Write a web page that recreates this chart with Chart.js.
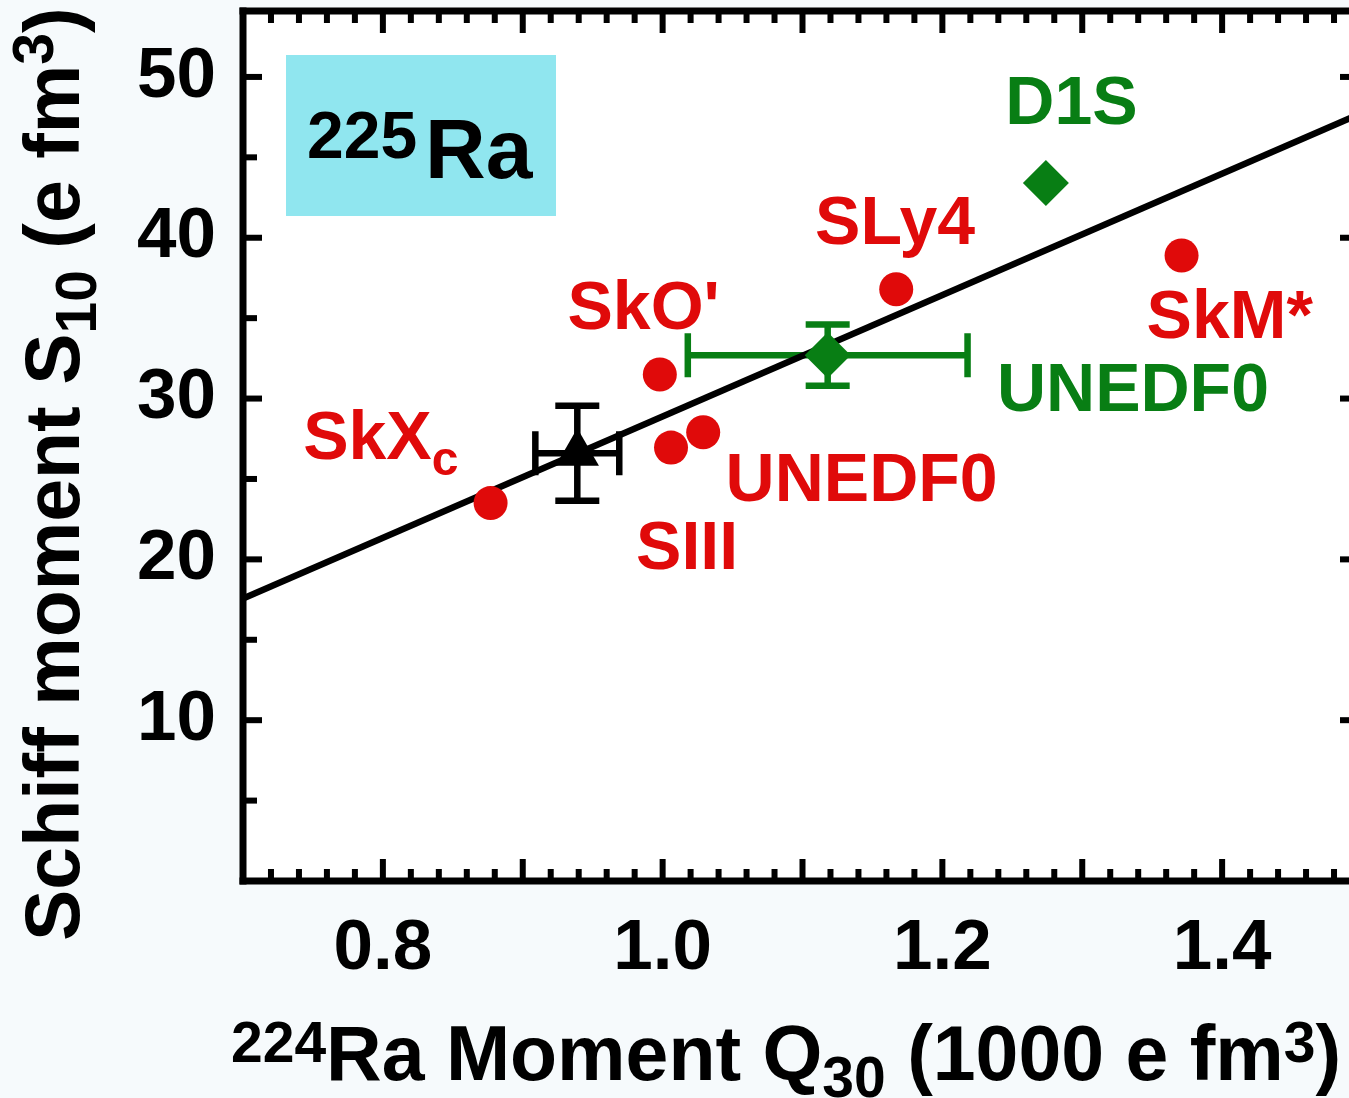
<!DOCTYPE html>
<html><head><meta charset="utf-8">
<script src="https://cdn.jsdelivr.net/npm/chart.js@4/dist/chart.umd.min.js"></script>
<style>
html,body{margin:0;padding:0;background:#f6fafc;overflow:hidden;width:1349px;height:1098px;}
#wrap{position:relative;width:1370px;height:1098px;}
</style></head><body><div id="wrap"><canvas id="c"></canvas></div>
<script>
// ---- data ----
const skyrmeNames = ['SkXc', "SkO'", 'SIII', 'UNEDF0', 'SLy4', 'SkM*'];
const skyrmeQ30 = [0.877, 0.998, 1.006, 1.029, 1.167, 1.371];
const skyrmeS10 = [23.5, 31.5, 26.95, 27.9, 36.8, 38.9];
const d1sQ30 = [1.274];
const d1sS10 = [43.4];
const unedfQ30 = [1.118];
const unedfS10 = [32.7];
const unedfQ30Err = [0.10];
const unedfS10Err = [1.9];
const expQ30 = [0.939];
const expS10 = [26.6];
const expQ30Err = [0.03];
const expS10Err = [2.95];
const fitQ30 = [0.7, 1.5];
const fitS10 = [17.56, 47.76];
const xTickLabels = [0.8, 1.0, 1.2, 1.4];
const yTickLabels = [10, 20, 30, 40, 50];

const RED = '#e00a0a', GREEN = '#087e14', BLACK = '#000000';
const FONT = "'Liberation Sans', Arial, sans-serif";

// label annotations (text segments, anchored at left baseline, in data coords)
const annotations = [
  {x: 0.743, y: 26.27, color: RED, segs: [{t: 'SkX'}, {t: 'c', sub: true}]},
  {x: 0.932, y: 34.35, color: RED, segs: [{t: "SkO'"}]},
  {x: 1.045, y: 23.66, color: RED, segs: [{t: 'UNEDF0'}]},
  {x: 0.981, y: 19.43, color: RED, segs: [{t: 'SIII'}]},
  {x: 1.109, y: 39.64, color: RED, segs: [{t: 'SLy4'}]},
  {x: 1.346, y: 33.79, color: RED, segs: [{t: 'SkM*'}]},
  {x: 1.245, y: 47.10, color: GREEN, segs: [{t: 'D1S'}]},
  {x: 1.239, y: 29.25, color: GREEN, segs: [{t: 'UNEDF0'}]}
];

function drawRich(ctx, segs, x, y, big, small, subDrop, supRise) {
  let cx = x;
  ctx.textBaseline = 'alphabetic';
  ctx.textAlign = 'left';
  for (const s of segs) {
    const size = (s.sub || s.sup) ? small : big;
    ctx.font = 'bold ' + size + 'px ' + FONT;
    const dy = s.sub ? subDrop : (s.sup ? -supRise : 0);
    ctx.fillText(s.t, cx, y + dy);
    cx += ctx.measureText(s.t).width;
  }
}

const decor = {
  id: 'decor',
  beforeDraw(chart) {
    const {ctx, chartArea: a} = chart;
    ctx.save();
    ctx.fillStyle = '#ffffff';
    ctx.fillRect(a.left, a.top, a.right - a.left, a.bottom - a.top);
    ctx.restore();
  },
  beforeDatasetsDraw(chart) {
    const {ctx} = chart;
    const xs = chart.scales.x, ys = chart.scales.y;
    ctx.save();
    const bars = [
      {q: unedfQ30, s: unedfS10, qe: unedfQ30Err, se: unedfS10Err, color: GREEN},
      {q: expQ30, s: expS10, qe: expQ30Err, se: expS10Err, color: BLACK}
    ];
    const cap = 22;
    for (const b of bars) {
      ctx.strokeStyle = b.color;
      ctx.lineWidth = 6.5;
      ctx.lineCap = 'butt';
      for (let i = 0; i < b.q.length; i++) {
        const px = xs.getPixelForValue(b.q[i]);
        const py = ys.getPixelForValue(b.s[i]);
        const x1 = xs.getPixelForValue(b.q[i] - b.qe[i]);
        const x2 = xs.getPixelForValue(b.q[i] + b.qe[i]);
        const y1 = ys.getPixelForValue(b.s[i] + b.se[i]);
        const y2 = ys.getPixelForValue(b.s[i] - b.se[i]);
        ctx.beginPath();
        ctx.moveTo(x1, py); ctx.lineTo(x2, py);
        ctx.moveTo(x1, py - cap); ctx.lineTo(x1, py + cap);
        ctx.moveTo(x2, py - cap); ctx.lineTo(x2, py + cap);
        ctx.moveTo(px, y1); ctx.lineTo(px, y2);
        ctx.moveTo(px - cap, y1); ctx.lineTo(px + cap, y1);
        ctx.moveTo(px - cap, y2); ctx.lineTo(px + cap, y2);
        ctx.stroke();
      }
    }
    ctx.restore();
  },
  afterDatasetsDraw(chart) {
    const {ctx, chartArea: a} = chart;
    const xs = chart.scales.x, ys = chart.scales.y;
    ctx.save();
    ctx.fillStyle = BLACK;
    const lw = 7;
    // frame
    ctx.fillRect(a.left - lw / 2, a.top - lw / 2, lw, a.bottom - a.top + lw);
    ctx.fillRect(a.left - lw / 2, a.top - lw / 2, a.right - a.left + lw, lw);
    ctx.fillRect(a.left - lw / 2, a.bottom - lw / 2, a.right - a.left + lw, lw);
    ctx.fillRect(a.right - lw / 2, a.top - lw / 2, lw, a.bottom - a.top + lw);
    const tw = 6;
    // x ticks: minor every 0.02, major every 0.1
    for (let k = 35; k <= 75; k++) {
      const v = k * 0.02;
      const p = xs.getPixelForValue(v);
      if (p <= a.left + 4 || p >= a.right - 4) continue;
      const major = (k % 5 === 0);
      const len = major ? 22 : 12;
      ctx.fillRect(p - tw / 2, a.bottom - len, tw, len);
      ctx.fillRect(p - tw / 2, a.top, tw, len);
    }
    // y ticks: minor every 5, major every 10
    for (let k = 1; k <= 10; k++) {
      const v = k * 5;
      const p = ys.getPixelForValue(v);
      const major = (k % 2 === 0);
      const len = major ? 19 : 14;
      ctx.fillRect(a.left, p - tw / 2, len, tw);
      if (major) ctx.fillRect(a.right - 22, p - tw / 2, 22, tw);
    }
    ctx.restore();
  },
  afterDraw(chart) {
    const {ctx} = chart;
    const xs = chart.scales.x, ys = chart.scales.y;
    ctx.save();
    for (const an of annotations) {
      ctx.fillStyle = an.color;
      drawRich(ctx, an.segs, xs.getPixelForValue(an.x), ys.getPixelForValue(an.y), 68, 48, 16, 24);
    }
    // 225Ra box
    ctx.fillStyle = '#90e6ef';
    ctx.fillRect(286, 55, 270, 161);
    ctx.fillStyle = BLACK;
    ctx.font = 'bold 66px ' + FONT;
    ctx.fillText('225', 307, 158);
    ctx.font = 'bold 84px ' + FONT;
    ctx.fillText('Ra', 425, 178);
    // x title
    drawRich(ctx, [{t: '224', sup: true}, {t: 'Ra Moment Q'}, {t: '30', sub: true}, {t: ' (1000 e fm'}, {t: '3', sup: true}, {t: ')'}],
      231, 1080, 77, 57, 17, 18);
    // y title
    ctx.translate(79, 941);
    ctx.rotate(-Math.PI / 2);
    drawRich(ctx, [{t: 'Schiff moment S'}, {t: '10', sub: true}, {t: ' (e fm'}, {t: '3', sup: true}, {t: ')'}],
      0, 0, 77, 57, 17, 26);
    ctx.restore();
  }
};

const tickFont = {family: FONT, size: 71, weight: 'bold'};
function zeroPad(s) { s.paddingTop = 0; s.paddingBottom = 0; s.paddingLeft = 0; s.paddingRight = 0; }

new Chart(document.getElementById('c'), {
  type: 'scatter',
  data: {
    datasets: [
      {
        label: 'Skyrme',
        data: skyrmeQ30.map((q, i) => ({x: q, y: skyrmeS10[i]})),
        pointStyle: 'circle', pointRadius: 17, pointHoverRadius: 17,
        backgroundColor: RED, borderColor: RED, borderWidth: 0
      },
      {
        label: 'D1S',
        data: d1sQ30.map((q, i) => ({x: q, y: d1sS10[i]})),
        pointStyle: 'rectRot', pointRadius: 23, pointHoverRadius: 23,
        backgroundColor: GREEN, borderColor: GREEN, borderWidth: 0
      },
      {
        label: 'UNEDF0 (Q30 with error)',
        data: unedfQ30.map((q, i) => ({x: q, y: unedfS10[i]})),
        pointStyle: 'rectRot', pointRadius: 23, pointHoverRadius: 23,
        backgroundColor: GREEN, borderColor: GREEN, borderWidth: 0
      },
      {
        label: 'Experiment',
        data: expQ30.map((q, i) => ({x: q, y: expS10[i]})),
        pointStyle: 'triangle', pointRadius: 25, pointHoverRadius: 25,
        backgroundColor: BLACK, borderColor: BLACK, borderWidth: 0
      },
      {
        label: 'Fit',
        type: 'line',
        data: fitQ30.map((q, i) => ({x: q, y: fitS10[i]})),
        borderColor: BLACK, borderWidth: 6.5, pointRadius: 0, fill: false, tension: 0
      }
    ]
  },
  options: {
    responsive: true,
    maintainAspectRatio: false,
    animation: false,
    devicePixelRatio: 1,
    layout: {autoPadding: false, padding: {top: 11, right: 8, left: 0, bottom: 0}},
    plugins: {legend: {display: false}, tooltip: {enabled: false}, title: {display: false}},
    scales: {
      x: {
        type: 'linear', min: 0.7, max: 1.5,
        afterBuildTicks: s => { s.ticks = xTickLabels.map(v => ({value: v})); },
        afterFit: s => { s.height = 217; zeroPad(s); },
        grid: {display: false, drawTicks: false},
        border: {display: false},
        ticks: {font: tickFont, color: BLACK, padding: 26, maxRotation: 0, autoSkip: false,
          callback: v => Number(v).toFixed(1)}
      },
      y: {
        type: 'linear', min: 0, max: 54.1,
        afterBuildTicks: s => { s.ticks = yTickLabels.map(v => ({value: v})); },
        afterFit: s => { s.width = 243; zeroPad(s); },
        grid: {display: false, drawTicks: false},
        border: {display: false},
        ticks: {font: tickFont, color: BLACK, padding: 27, autoSkip: false,
          callback: v => String(v)}
      }
    }
  },
  plugins: [decor]
});
</script></body></html>
